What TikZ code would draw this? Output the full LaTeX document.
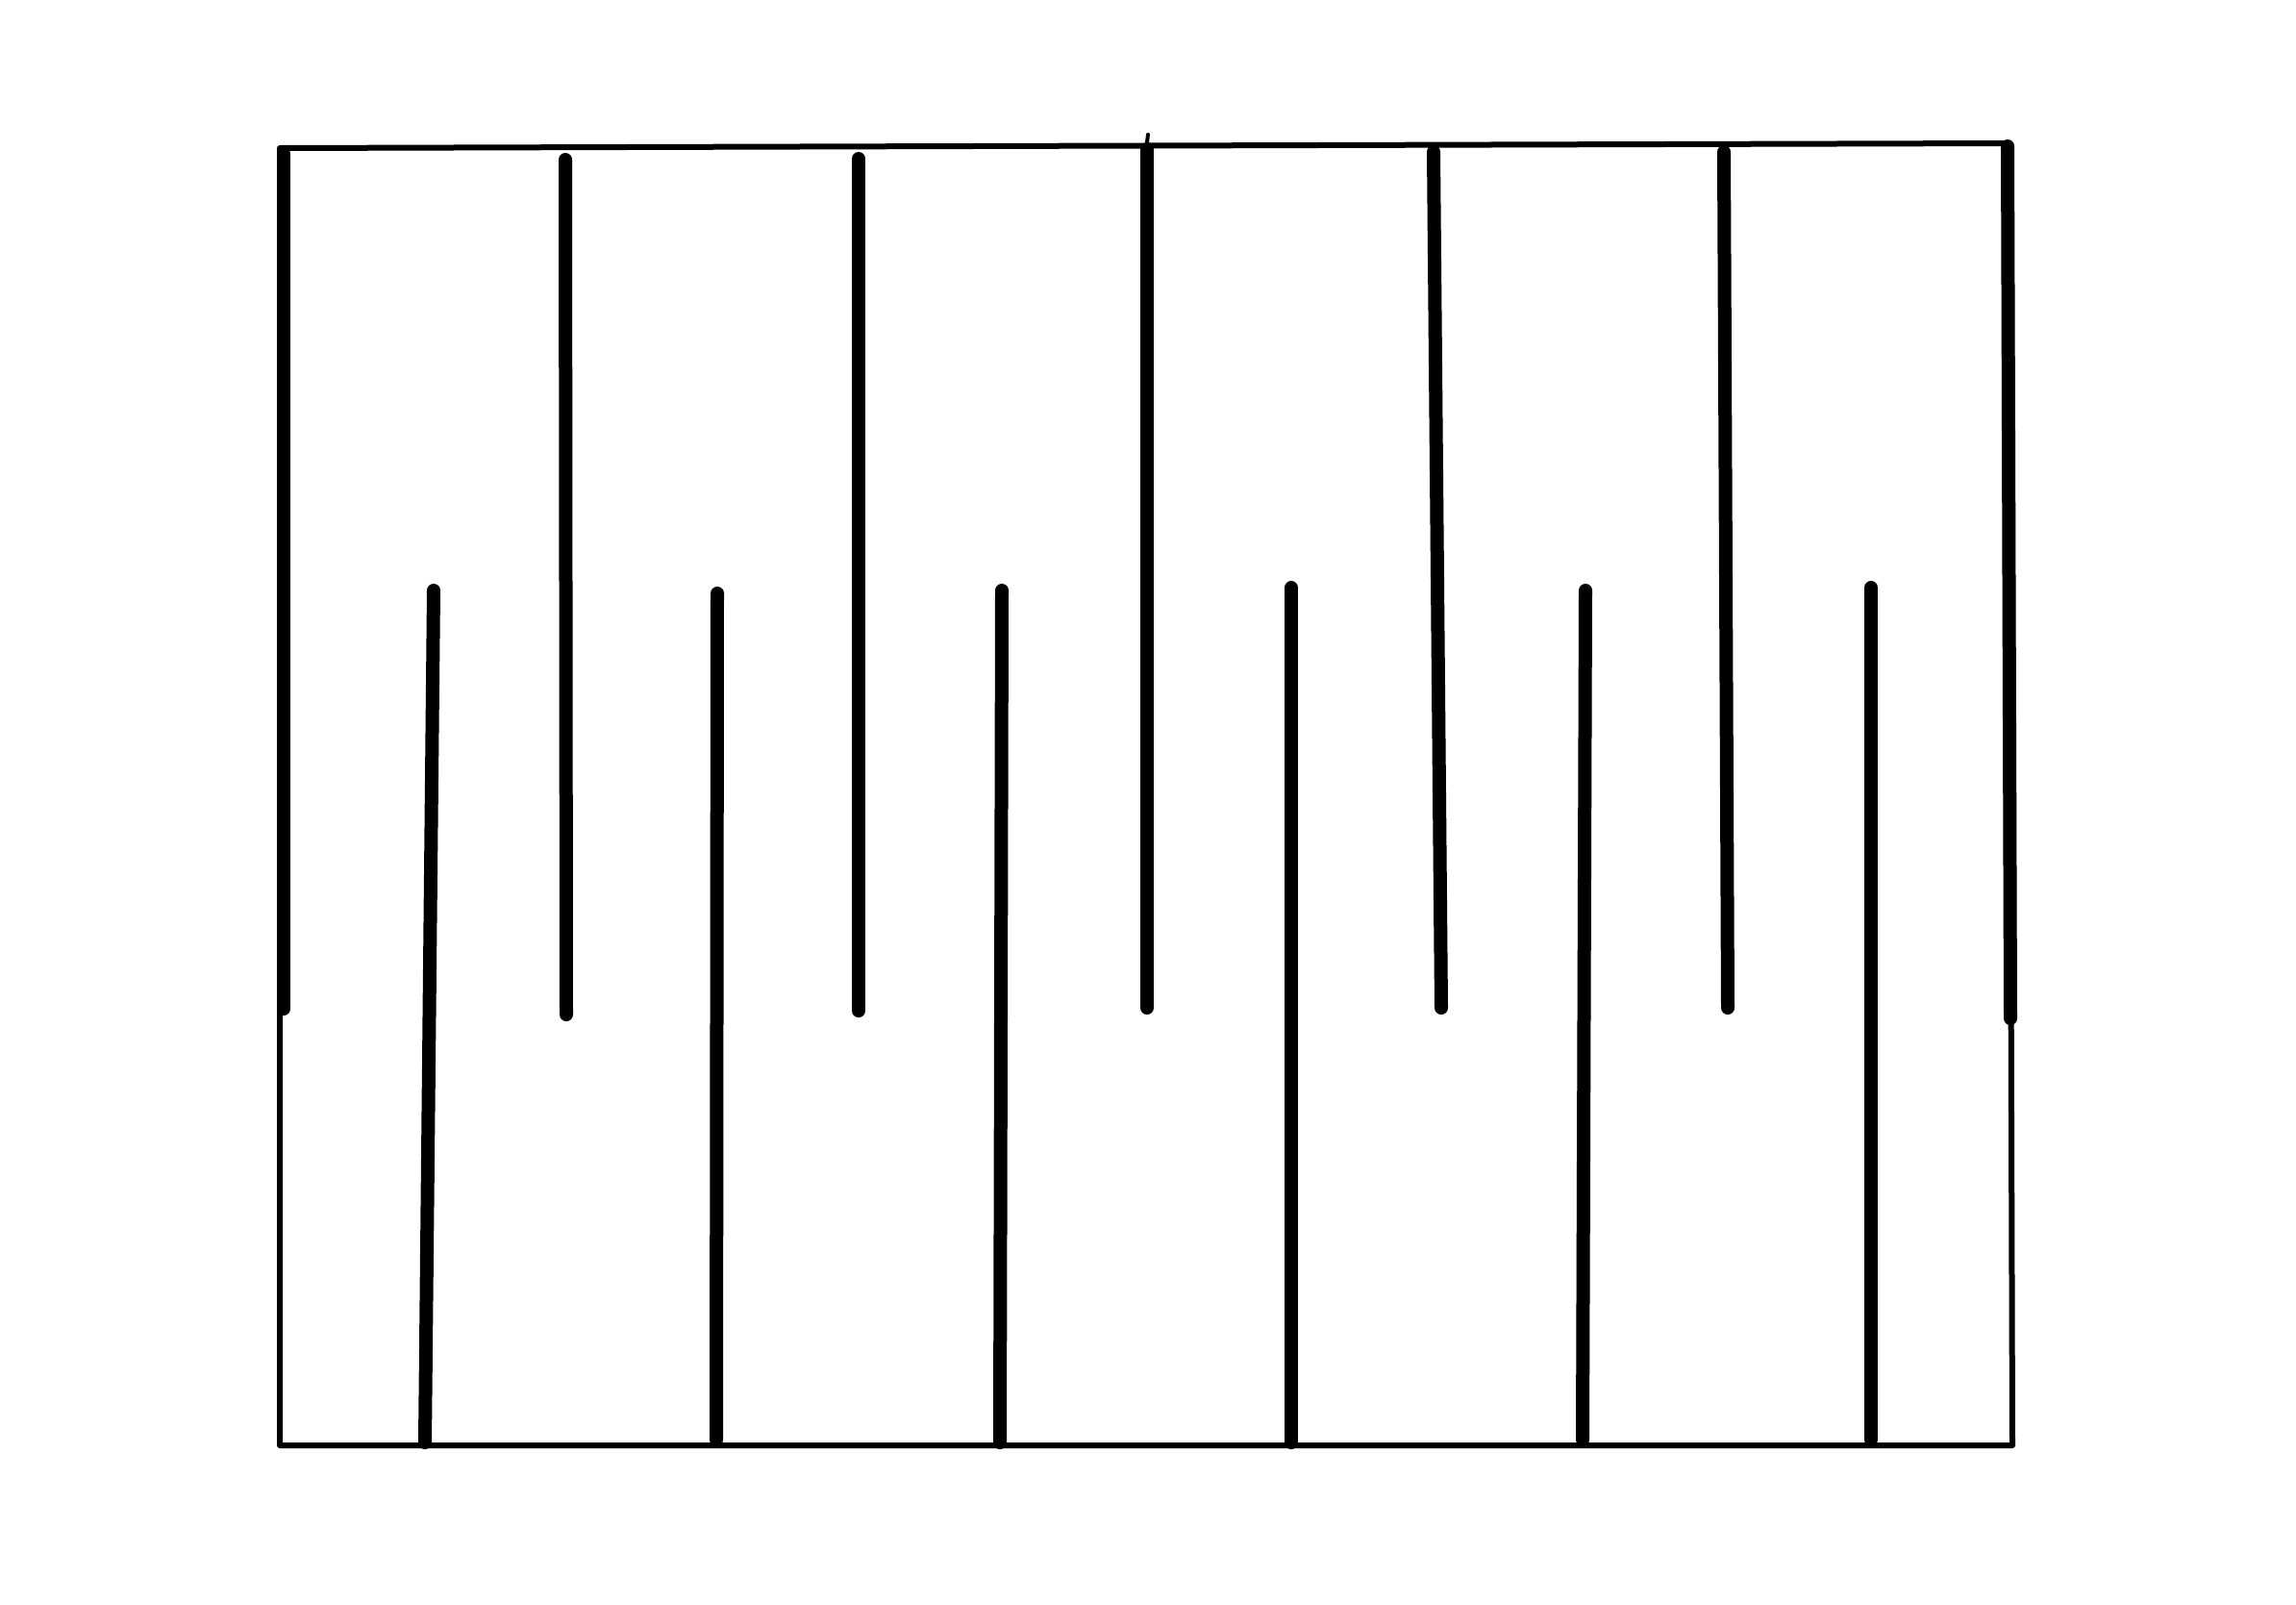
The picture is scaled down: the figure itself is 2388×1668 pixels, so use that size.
\documentclass[tikz,border=0pt]{standalone}
\begin{document}
\begin{tikzpicture}[x=1pt,y=-1pt,
  frame/.style={line width=6pt,line join=round,line cap=round},
  bar/.style={line width=14pt,line cap=round}]
\useasboundingbox (0,0) rectangle (2388,1668);
% outer frame
\draw[frame] (291,154) -- (2089,149) -- (2093,1503) -- (291,1503) -- cycle;
% bars hanging from the top
\coordinate (t0) at (295,160);  \coordinate (u0) at (295,1049);
\coordinate (t1) at (588,166);  \coordinate (u1) at (589,1055);
\coordinate (t2) at (893,165);  \coordinate (u2) at (893,1051);
\coordinate (t3) at (1193,155); \coordinate (u3) at (1193,1048);
\coordinate (t4) at (1491,158); \coordinate (u4) at (1499,1048);
\coordinate (t5) at (1793,158); \coordinate (u5) at (1797,1048);
\coordinate (t6) at (2088,152); \coordinate (u6) at (2091,1059);
\foreach \i in {0,...,6} \draw[bar] (t\i) -- (u\i);
% small tick above the middle bar
\draw[line width=4pt,line cap=round] (1193,148) -- (1194,140);
% bars standing on the bottom
\coordinate (b1) at (451,614);  \coordinate (c1) at (442,1500);
\coordinate (b2) at (746,617);  \coordinate (c2) at (745,1497);
\coordinate (b3) at (1042,614); \coordinate (c3) at (1040,1500);
\coordinate (b4) at (1343,611); \coordinate (c4) at (1343,1500);
\coordinate (b5) at (1649,614); \coordinate (c5) at (1646,1497);
\coordinate (b6) at (1946,611); \coordinate (c6) at (1946,1497);
\foreach \i in {1,...,6} \draw[bar] (b\i) -- (c\i);
\end{tikzpicture}
\end{document}
